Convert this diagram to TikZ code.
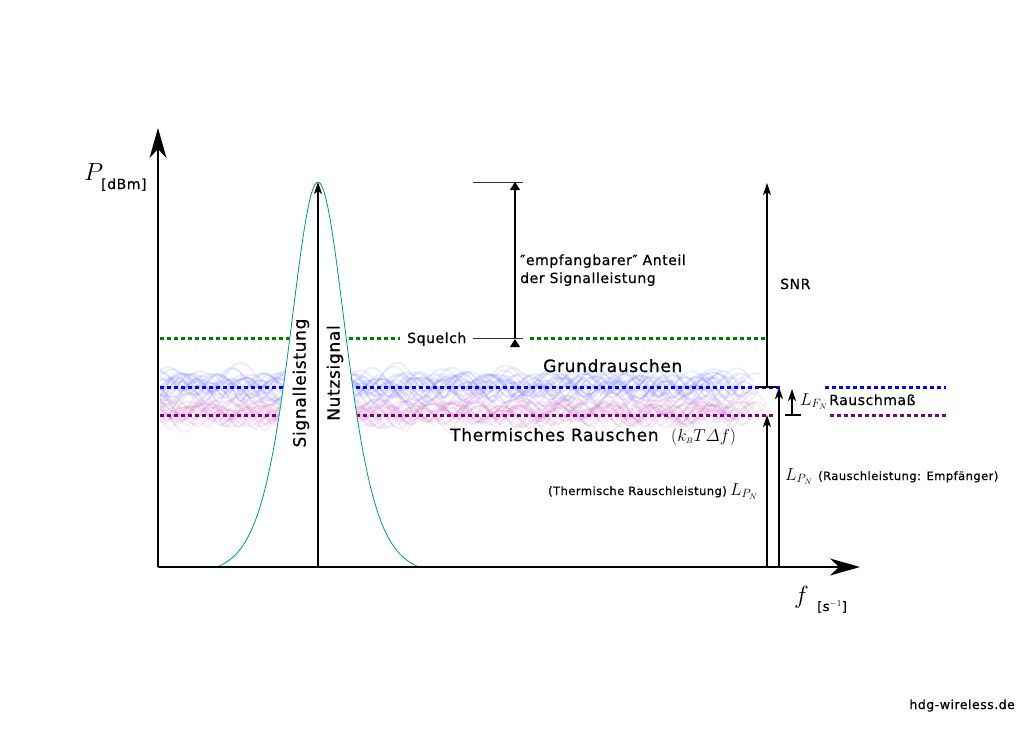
\documentclass[tikz,border=0pt]{standalone}
\usepackage{amsmath}
\usepackage{fontspec}
\setsansfont{DejaVu Sans}[LetterSpace=4, FakeBold=0.6]
\usetikzlibrary{arrows.meta}
\definecolor{sqgreen}{RGB}{0,128,0}
\definecolor{nblue}{RGB}{0,0,255}
\definecolor{npurple}{RGB}{128,0,128}
\definecolor{gteal}{RGB}{0,150,150}
\definecolor{bandblue}{RGB}{100,100,255}
\definecolor{bandpink}{RGB}{190,90,180}
\begin{document}
\begin{tikzpicture}[x=1pt,y=-1pt,
  txt/.style={font=\sffamily\fontsize{14}{17}\selectfont, inner sep=0pt, text=black},
  bigtxt/.style={font=\sffamily\fontsize{17}{19}\selectfont, inner sep=0pt},
  smalltxt/.style={font=\sffamily\fontsize{11.5}{13}\selectfont, inner sep=0pt},
  mathtxt/.style={font=\fontsize{17}{19}\selectfont, inner sep=0pt},
  axis/.style={line width=1.5pt, -{Stealth[length=30pt,width=17pt,inset=9pt]}},
  arr/.style={line width=1.3pt, -{Stealth[length=12pt,width=8pt,inset=3pt]}},
  tick/.style={line width=1.3pt},
  thin/.style={line width=0.6pt, black!80},
  dots/.style={line width=3pt, dash pattern=on 3.5pt off 3.5pt},
  noiseb/.style={bandblue, opacity=0.12, line width=1.8pt},
  noisep/.style={bandpink, opacity=0.11, line width=1.8pt},
]
\useasboundingbox (0,0) rectangle (1035,732);

% noise bands
\pgfmathsetseed{5}
\begin{scope}
\clip (160,340) rectangle (800,445);
\foreach \i in {1,...,24}{
  \pgfmathsetmacro\pa{360*rnd}
  \pgfmathsetmacro\pb{360*rnd}
  \pgfmathsetmacro\fa{6.5+2.5*rnd}
  \pgfmathsetmacro\ra{3*rnd}
  \pgfmathsetmacro\aa{7+6*rnd}
  \pgfmathsetmacro\ab{2+5*rnd}
  \pgfmathsetmacro\off{-7+14*rnd}
  \pgfmathsetmacro\xe{715+45*rnd}
  \draw[noiseb] plot[domain=150:\xe, samples=300, smooth]
    ({\x+\ra*cos(\fa*\x+\pa)}, {386+\off+\aa*sin(\fa*\x+\pa)+\ab*sin(2.6*\x+\pb)});
}
\foreach \i in {1,...,24}{
  \pgfmathsetmacro\pa{360*rnd}
  \pgfmathsetmacro\pb{360*rnd}
  \pgfmathsetmacro\fa{6.5+2.5*rnd}
  \pgfmathsetmacro\ra{3*rnd}
  \pgfmathsetmacro\aa{6+6*rnd}
  \pgfmathsetmacro\ab{2+4*rnd}
  \pgfmathsetmacro\off{-6+12*rnd}
  \pgfmathsetmacro\xe{725+45*rnd}
  \draw[noisep] plot[domain=150:\xe, samples=300, smooth]
    ({\x+\ra*cos(\fa*\x+\pa)}, {413+\off+\aa*sin(\fa*\x+\pa)+\ab*sin(2.6*\x+\pb)});
}
\end{scope}

% dotted levels
\coordinate (sqL) at (160,338);
\coordinate (sqM) at (400,338);
\coordinate (sqR1) at (530,338);
\coordinate (sqR2) at (765,338);
\draw[dots, sqgreen] (sqL) -- (sqM);
\draw[dots, sqgreen] (sqR1) -- (sqR2);
\coordinate (bL) at (160,387);
\coordinate (bR) at (782,387);
\coordinate (bL2) at (825,387);
\coordinate (bR2) at (946,387);
\draw[dots, nblue] (bL) -- (bR);
\draw[dots, nblue] (bL2) -- (bR2);
\coordinate (pL) at (160,415);
\coordinate (pR) at (775,415);
\coordinate (pL2) at (830,415);
\coordinate (pR2) at (949,415);
\draw[dots, npurple] (pL) -- (pR);
\draw[dots, npurple] (pL2) -- (pR2);

% signal curve
\filldraw[fill=white, draw=gteal, line width=0.8pt]
  plot[domain=-100:100, samples=200, smooth]
  ({318+\x}, {567-385*(4/((exp(\x/38)+exp(-\x/38))^2)-0.0192)/0.9808});

% axes
\coordinate (O) at (158,567);
\coordinate (Ytop) at (158,128);
\coordinate (Xend) at (860,567);
\draw[axis] (O) -- (Ytop);
\draw[axis] (O) -- (Xend);
\node[anchor=base west, inner sep=0pt, font=\fontsize{36}{38}\selectfont] (Plab) at (84,180) {$P$};
\node[anchor=base west, inner sep=0pt, font=\sffamily\fontsize{14}{16}\selectfont] (dbm) at (101,189) {[dBm]};
\node[anchor=base west, inner sep=0pt, font=\fontsize{36}{38}\selectfont] (flab) at (794,603) {$f$};
\node[anchor=base west, inner sep=0pt, font=\sffamily\fontsize{13}{15}\selectfont] (slab) at (817,611) {[s$^{-1}$]};

% signal arrow
\coordinate (sigB) at (318,567);
\coordinate (sigT) at (318,182);
\draw[arr] (sigB) -- (sigT);
\node[bigtxt, rotate=90] (sl) at (301,383) {Signalleistung};
\node[bigtxt, rotate=90] (ns) at (335,373) {Nutzsignal};

% squelch
\node[txt, anchor=base west] (sq) at (407,343) {Squelch};
\coordinate (sqa) at (473,338);
\coordinate (sqb) at (523,338);
\draw[thin] (sqa) -- (sqb);
\coordinate (topa) at (473,182);
\coordinate (topb) at (523,182);
\draw[thin] (topa) -- (topb);
\coordinate (eB) at (515,338);
\coordinate (eT) at (515,182);
\draw[line width=1.3pt, -{Triangle[length=8pt,width=10pt]}] (eB) -- (eT);
\fill (510,347) -- (520,347) -- (515,339) -- cycle;
\node[txt, anchor=base west] (emp1) at (520,265) {\char"2033 empfangbarer\char"2033\ Anteil};
\node[txt, anchor=base west] (emp2) at (520,283) {der Signalleistung};

% labels in bands
\node[bigtxt, anchor=base west] (gr) at (543,372) {Grundrauschen};
\node[bigtxt, anchor=base west] (th) at (450,441) {Thermisches Rauschen};
\node[inner sep=0pt, font=\fontsize{16.5}{18}\selectfont, anchor=base west] (kb) at (671,441) {$(k_{\scriptscriptstyle B} T \varDelta f)$};

% SNR
\coordinate (snrB) at (767,387);
\coordinate (snrT) at (767,183);
\draw[arr] (snrB) -- (snrT);
\coordinate (tkA) at (759,387);
\coordinate (tkB) at (776,387);
\draw[tick] (tkA) -- (tkB);
\node[txt, anchor=base west] (snr) at (780,289) {SNR};

% noise power arrows
\coordinate (thB) at (767,567);
\coordinate (thT) at (767,415);
\draw[arr] (thB) -- (thT);
\coordinate (rxB) at (779,567);
\coordinate (rxT) at (779,387);
\draw[arr] (rxB) -- (rxT);
\coordinate (lfB) at (792,415);
\coordinate (lfT) at (792,389);
\draw[arr] (lfB) -- (lfT);
\coordinate (lfa) at (785,415);
\coordinate (lfb) at (801,415);
\draw[tick] (lfa) -- (lfb);
\node[mathtxt, anchor=base west] (lfn) at (800,405) {$L_{F_N}$};
\node[txt, anchor=base west] (rm) at (829,405) {Rauschmaß};

\node[smalltxt, anchor=base east] (thr) at (727,495) {(Thermische Rauschleistung)};
\node[mathtxt, anchor=base west] (lpn1) at (730,495) {$L_{P_N}$};
\node[mathtxt, anchor=base west] (lpn2) at (785,480) {$L_{P_N}$};
\node[smalltxt, anchor=base west] (rxl) at (818,480) {(Rauschleistung: Empfänger)};

\node[anchor=base east, inner sep=0pt, font=\sffamily\fontsize{12.5}{14}\selectfont] (web) at (1015,709) {hdg-wireless.de};
\end{tikzpicture}
\end{document}
